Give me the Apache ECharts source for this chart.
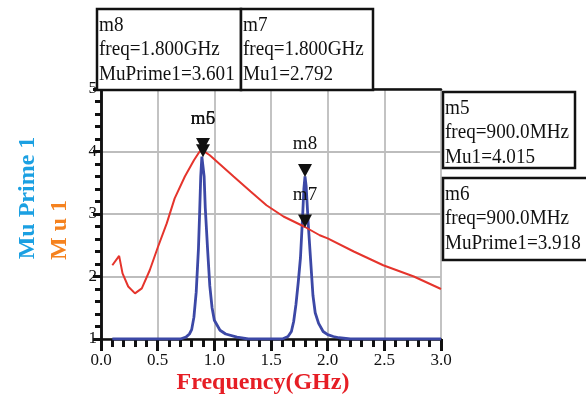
<!DOCTYPE html>
<html>
<head>
<meta charset="utf-8">
<script src="https://cdn.jsdelivr.net/npm/echarts@6/dist/echarts.min.js"></script>
<style>
html, body { margin: 0; padding: 0; background: #fff; }
#main { width: 586px; height: 396px; }
</style>
</head>
<body>
<div id="main"></div>
<script>
// Mu1 (red)
var freqMu1 = [0.10, 0.16, 0.19, 0.24, 0.30, 0.36, 0.43, 0.50, 0.58, 0.65, 0.74, 0.82, 0.87, 0.90, 0.96, 1.17, 1.32, 1.46, 1.61, 1.80, 1.93, 2.00, 2.23, 2.49, 2.76, 3.00];
var mu1 = [2.18, 2.33, 2.05, 1.84, 1.73, 1.81, 2.10, 2.46, 2.85, 3.25, 3.60, 3.86, 4.00, 4.015, 3.94, 3.60, 3.36, 3.14, 2.96, 2.792, 2.66, 2.61, 2.40, 2.18, 2.00, 1.80];

// MuPrime1 (blue)
var freqMuPrime = [0.10, 0.40, 0.70, 0.75, 0.78, 0.80, 0.82, 0.84, 0.86, 0.87, 0.88, 0.89, 0.90, 0.91, 0.92, 0.94, 0.96, 0.98, 1.00, 1.05, 1.10, 1.20, 1.30, 1.50, 1.60, 1.65, 1.68, 1.70, 1.72, 1.74, 1.76, 1.78, 1.79, 1.80, 1.81, 1.83, 1.85, 1.87, 1.89, 1.92, 1.96, 2.00, 2.05, 2.10, 2.20, 2.60, 3.00];
var muPrime1 = [1.0, 1.0, 1.0, 1.03, 1.08, 1.15, 1.35, 1.75, 2.45, 3.0, 3.6, 3.918, 3.918, 3.6, 3.1, 2.45, 1.85, 1.5, 1.3, 1.14, 1.08, 1.03, 1.0, 1.0, 1.0, 1.04, 1.12, 1.28, 1.55, 1.9, 2.3, 3.0, 3.4, 3.601, 3.45, 2.8, 2.25, 1.7, 1.42, 1.25, 1.12, 1.07, 1.04, 1.02, 1.0, 1.0, 1.0];

var xTicks = [0, 0.5, 1.0, 1.5, 2.0, 2.5, 3.0];
var yTicks = [1, 2, 3, 4, 5];

// markers
var markers = [
    {name: 'm5', trace: 'Mu1', freq: 0.9, freqText: '900.0MHz', value: 4.015},
    {name: 'm6', trace: 'MuPrime1', freq: 0.9, freqText: '900.0MHz', value: 3.918},
    {name: 'm7', trace: 'Mu1', freq: 1.8, freqText: '1.800GHz', value: 2.792},
    {name: 'm8', trace: 'MuPrime1', freq: 1.8, freqText: '1.800GHz', value: 3.601}
];

var serif = '"Liberation Serif", "Times New Roman", serif';

function zip(xs, ys) {
    return xs.map(function (x, i) { return [x, ys[i]]; });
}

function markPts(trace) {
    return markers.filter(function (m) { return m.trace === trace; }).map(function (m) {
        return {
            name: m.name,
            coord: [m.freq, m.value],
            label: {distance: m.name === 'm6' ? 16 : 10}
        };
    });
}

// readout boxes: position of each box on the page
var boxes = [
    {m: 'm8', x: 97, y: 9, w: 144, h: 81},
    {m: 'm7', x: 241, y: 9, w: 132, h: 81},
    {m: 'm5', x: 443, y: 92, w: 132, h: 76},
    {m: 'm6', x: 443, y: 178, w: 150, h: 82}
];

var graphics = [];
boxes.forEach(function (b) {
    var m = markers.filter(function (k) { return k.name === b.m; })[0];
    graphics.push({
        type: 'rect', z: 10,
        shape: {x: b.x, y: b.y, width: b.w, height: b.h},
        style: {fill: '#fff', stroke: '#111', lineWidth: 2.5}
    });
    graphics.push({
        type: 'text', z: 11,
        x: b.x + 2, y: b.y + 3.5, scaleX: 0.87,
        style: {
            text: m.name + '\nfreq=' + m.freqText + '\n' + m.trace + '=' + m.value.toFixed(3),
            fontSize: 22, fontFamily: serif, lineHeight: 24.5,
            fill: '#111', verticalAlign: 'top', align: 'left'
        }
    });
});
graphics.push({
    type: 'text', x: 28, y: 198, rotation: Math.PI / 2,
    style: {text: 'Mu Prime 1', fontSize: 24, fontWeight: 'bold', fontFamily: serif,
        fill: '#1ba0e2', align: 'center', verticalAlign: 'middle'}
});
graphics.push({
    type: 'text', x: 60, y: 230, rotation: Math.PI / 2,
    style: {text: 'M u 1', fontSize: 24, fontWeight: 'bold', fontFamily: serif,
        fill: '#f5821f', align: 'center', verticalAlign: 'middle'}
});
graphics.push({
    type: 'text', x: 263, y: 383,
    style: {text: 'Frequency(GHz)', fontSize: 24, fontWeight: 'bold', fontFamily: serif,
        fill: '#e61e25', align: 'center', verticalAlign: 'middle'}
});

// plain frame line for the top / right side
var frameAxis = {
    axisLine: {show: true, lineStyle: {color: '#111', width: 2.5}},
    axisTick: {show: false}, axisLabel: {show: false}, splitLine: {show: false}
};

var myecharts = echarts.init(document.getElementById('main'));
var option = {
    animation: false,
    backgroundColor: '#fff',
    grid: {left: 101, right: 145, top: 89, bottom: 57},
    xAxis: [
        {
            type: 'value',
            min: xTicks[0], max: xTicks[xTicks.length - 1], interval: 0.5,
            axisLine: {show: true, lineStyle: {color: '#111', width: 2.5}},
            axisTick: {show: true, length: 12, lineStyle: {color: '#111', width: 3}},
            minorTick: {show: true, splitNumber: 5, length: 8, lineStyle: {color: '#111', width: 3}},
            splitLine: {show: true, lineStyle: {color: '#bdbdbd', width: 1.8}},
            axisLabel: {
                margin: 13, fontSize: 17, fontFamily: serif, color: '#111',
                formatter: function (v) { return v.toFixed(1); }
            }
        },
        Object.assign({type: 'value', position: 'top', min: xTicks[0], max: xTicks[xTicks.length - 1]}, frameAxis)
    ],
    yAxis: [
        {
            type: 'value',
            min: yTicks[0], max: yTicks[yTicks.length - 1], interval: 1,
            axisLine: {show: true, lineStyle: {color: '#111', width: 2.5}},
            axisTick: {show: true, length: 8, lineStyle: {color: '#111', width: 3}},
            minorTick: {show: true, splitNumber: 5, length: 6, lineStyle: {color: '#111', width: 3}},
            splitLine: {show: true, lineStyle: {color: '#bdbdbd', width: 1.8}},
            axisLabel: {margin: 4, fontSize: 17, fontFamily: serif, color: '#111'}
        },
        Object.assign({type: 'value', position: 'right', min: yTicks[0], max: yTicks[yTicks.length - 1]}, frameAxis)
    ],
    series: [
        {
            name: 'MuPrime1',
            type: 'line',
            data: zip(freqMuPrime, muPrime1),
            showSymbol: false,
            lineStyle: {color: '#3c48a6', width: 2.8},
            markPoint: {
                symbol: 'triangle', symbolRotate: 180, symbolSize: [14, 13], symbolOffset: [0, -6],
                itemStyle: {color: '#111'},
                label: {show: true, position: 'top', formatter: '{b}', fontSize: 19, fontFamily: serif, color: '#111'},
                data: markPts('MuPrime1')
            }
        },
        {
            name: 'Mu1',
            type: 'line',
            data: zip(freqMu1, mu1),
            showSymbol: false,
            lineStyle: {color: '#e5342c', width: 2},
            markPoint: {
                symbol: 'triangle', symbolRotate: 180, symbolSize: [14, 13], symbolOffset: [0, -6],
                itemStyle: {color: '#111'},
                label: {show: true, position: 'top', formatter: '{b}', fontSize: 19, fontFamily: serif, color: '#111'},
                data: markPts('Mu1')
            }
        }
    ],
    graphic: graphics
};
myecharts.setOption(option);
</script>
</body>
</html>
